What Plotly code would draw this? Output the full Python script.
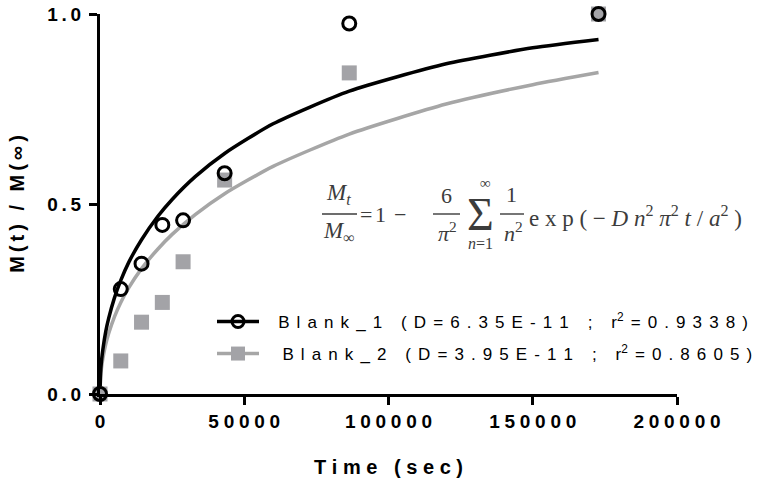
import plotly.graph_objects as go

# ---------------- data ----------------
time_sec = [0, 7200, 14400, 21600, 28800, 43200, 86400, 172800]
blank1 = [0.0, 0.276, 0.343, 0.445, 0.457, 0.581, 0.975, 1.0]
blank2 = [0.0, 0.087, 0.189, 0.241, 0.348, 0.563, 0.845, 1.0]

fit_time = [0, 200, 500, 1000, 2000, 3000, 5000, 7200, 10000, 14400, 20000,
            25000, 33000, 43200, 60000, 86400, 120000, 150000, 172800]
fit1 = [0, 0.055, 0.085, 0.118, 0.165, 0.199, 0.253, 0.299, 0.347, 0.406, 0.467,
        0.512, 0.572, 0.633, 0.711, 0.797, 0.869, 0.911, 0.933]
fit2 = [0, 0.043, 0.067, 0.094, 0.131, 0.159, 0.203, 0.241, 0.280, 0.330, 0.381,
        0.420, 0.472, 0.527, 0.599, 0.684, 0.763, 0.814, 0.846]

name1_parts = ["Blank_1 (D=6.35E-11 ; r", "2", "=0.9338)"]
name2_parts = ["Blank_2 (D=3.95E-11 ; r", "2", "=0.8605)"]

x_tick_vals = [0, 50000, 100000, 150000, 200000]
x_tick_labels = ["0", "50000", "100000", "150000", "200000"]
y_tick_vals = [0, 0.5, 1.0]
y_tick_labels = ["0.0", "0.5", "1.0"]
x_title = "Time (sec)"
y_title = "M(t) / M(∞)"

# ---------------- style ----------------
BLACK = "#000000"
GRAY = "#a3a3a7"
LINEGRAY = "#a6a6a6"
EQ = "#3c3c3c"
FONT = "Liberation Sans"
SERIF = "Liberation Serif"

W, H = 766, 490
L, R, T, B = 100, 89, 14, 96
PW, PH = W - L - R, H - T - B

THIN = "\u2009"
FOUR = "\u2005"
THREE = "\u2004"
HAIR = "\u200a"
EN = "\u2002"


def spaced(s, sep):
    return sep.join(list(s))


def px(xp):
    return (xp - L) / PW


def py(yp):
    return (H - B - yp) / PH


LSEP = THREE + HAIR


def legend_name(parts, lead):
    a, s, b = parts
    return lead + spaced(a, LSEP) + "<sup>" + s + "</sup>" + LSEP + spaced(b, LSEP)


fig = go.Figure()

fig.add_trace(go.Scatter(x=fit_time, y=fit2, mode="lines",
                         line=dict(color=LINEGRAY, width=3.5, shape="spline", smoothing=0.6),
                         showlegend=False, hoverinfo="skip"))
fig.add_trace(go.Scatter(x=fit_time, y=fit1, mode="lines",
                         line=dict(color=BLACK, width=3.5, shape="spline", smoothing=0.6),
                         showlegend=False, hoverinfo="skip"))
fig.add_trace(go.Scatter(x=time_sec, y=blank2, mode="markers",
                         marker=dict(symbol="square", size=15, color=GRAY, line=dict(width=0)),
                         cliponaxis=False, showlegend=False))
fig.add_trace(go.Scatter(x=time_sec, y=blank1, mode="markers",
                         marker=dict(symbol="circle", size=13, color="rgba(0,0,0,0)",
                                     line=dict(color=BLACK, width=3)),
                         cliponaxis=False, showlegend=False))

# legend entries (line + marker)
fig.add_trace(go.Scatter(x=[None], y=[None], mode="lines+markers",
                         name=legend_name(name1_parts, EN + THREE),
                         line=dict(color=BLACK, width=3.5),
                         marker=dict(symbol="circle", size=12, color="rgba(0,0,0,0)",
                                     line=dict(color=BLACK, width=3)),
                         legend="legend"))
fig.add_trace(go.Scatter(x=[None], y=[None], mode="lines+markers",
                         name=legend_name(name2_parts, EN + EN + HAIR),
                         line=dict(color=LINEGRAY, width=3.5),
                         marker=dict(symbol="square", size=14, color=GRAY, line=dict(width=0)),
                         legend="legend2"))

axis_common = dict(showline=True, linecolor=BLACK, linewidth=3, ticks="outside",
                   ticklen=8, tickwidth=3, tickcolor=BLACK, showgrid=False, zeroline=False,
                   automargin=False,
                   tickfont=dict(family=FONT, size=19, color=BLACK, weight="bold"))

fig.update_xaxes(range=[0, 200000], tickvals=x_tick_vals,
                 ticktext=[spaced(t, FOUR) for t in x_tick_labels],
                 title=dict(text=spaced(x_title, " "), standoff=30,
                            font=dict(family=FONT, size=20, color=BLACK, weight="bold")),
                 **axis_common)
fig.update_yaxes(range=[0, 1], tickvals=y_tick_vals,
                 ticktext=[spaced(t, THIN) for t in y_tick_labels],
                 ticklabelstandoff=4,
                 title=dict(text=spaced(y_title, THIN), standoff=18,
                            font=dict(family=FONT, size=20, color=BLACK, weight="bold")),
                 **axis_common)

leg_common = dict(bgcolor="rgba(0,0,0,0)", borderwidth=0, itemwidth=42,
                  font=dict(family=FONT, size=17, color=BLACK),
                  xanchor="left", yanchor="middle", xref="paper", yref="paper")
fig.update_layout(
    legend=dict(x=px(212), y=py(322), **leg_common),
    legend2=dict(x=px(212), y=py(354), **leg_common),
)

# equation
ann = []


def txt(text, xp, yp, size=22, xanchor="center"):
    ann.append(dict(text=text, x=px(xp), y=py(yp), xref="paper", yref="paper",
                    xanchor=xanchor, yanchor="middle", showarrow=False,
                    font=dict(family=SERIF, size=size, color=EQ)))


txt("<i>M</i><sub><i>t</i></sub>", 338, 194, size=23)
txt("<i>M</i><sub>∞</sub>", 339, 232, size=23)
txt("=", 366, 214)
txt("1", 380, 214)
txt("−", 400, 214)
txt("6", 446, 195)
txt("<i>π</i><sup>2</sup>", 447, 232)
txt("Σ", 480, 214, size=46)
txt("∞", 485, 183, size=15)
txt("<i>n</i>=1", 480, 243, size=16)
txt("1", 511, 194)
txt("<i>n</i><sup>2</sup>", 513, 232)
exp_text = FOUR.join(["e", "x", "p", "(", "−", "<i>D</i>", "<i>n</i><sup>2</sup>",
                      "<i>π</i><sup>2</sup>", "<i>t</i>", "/", "<i>a</i><sup>2</sup>", ")"])
txt(exp_text, 527, 216, size=23, xanchor="left")

shapes = []
for x0, x1 in [(322, 357), (433, 460), (500, 524)]:
    shapes.append(dict(type="line", xref="paper", yref="paper", x0=px(x0), x1=px(x1),
                       y0=py(214), y1=py(214), line=dict(color=EQ, width=1.4)))

fig.update_layout(
    width=W, height=H, margin=dict(l=L, r=R, t=T, b=B, autoexpand=False),
    paper_bgcolor="white", plot_bgcolor="white",
    annotations=ann, shapes=shapes,
)

fig.write_html("out.html")
